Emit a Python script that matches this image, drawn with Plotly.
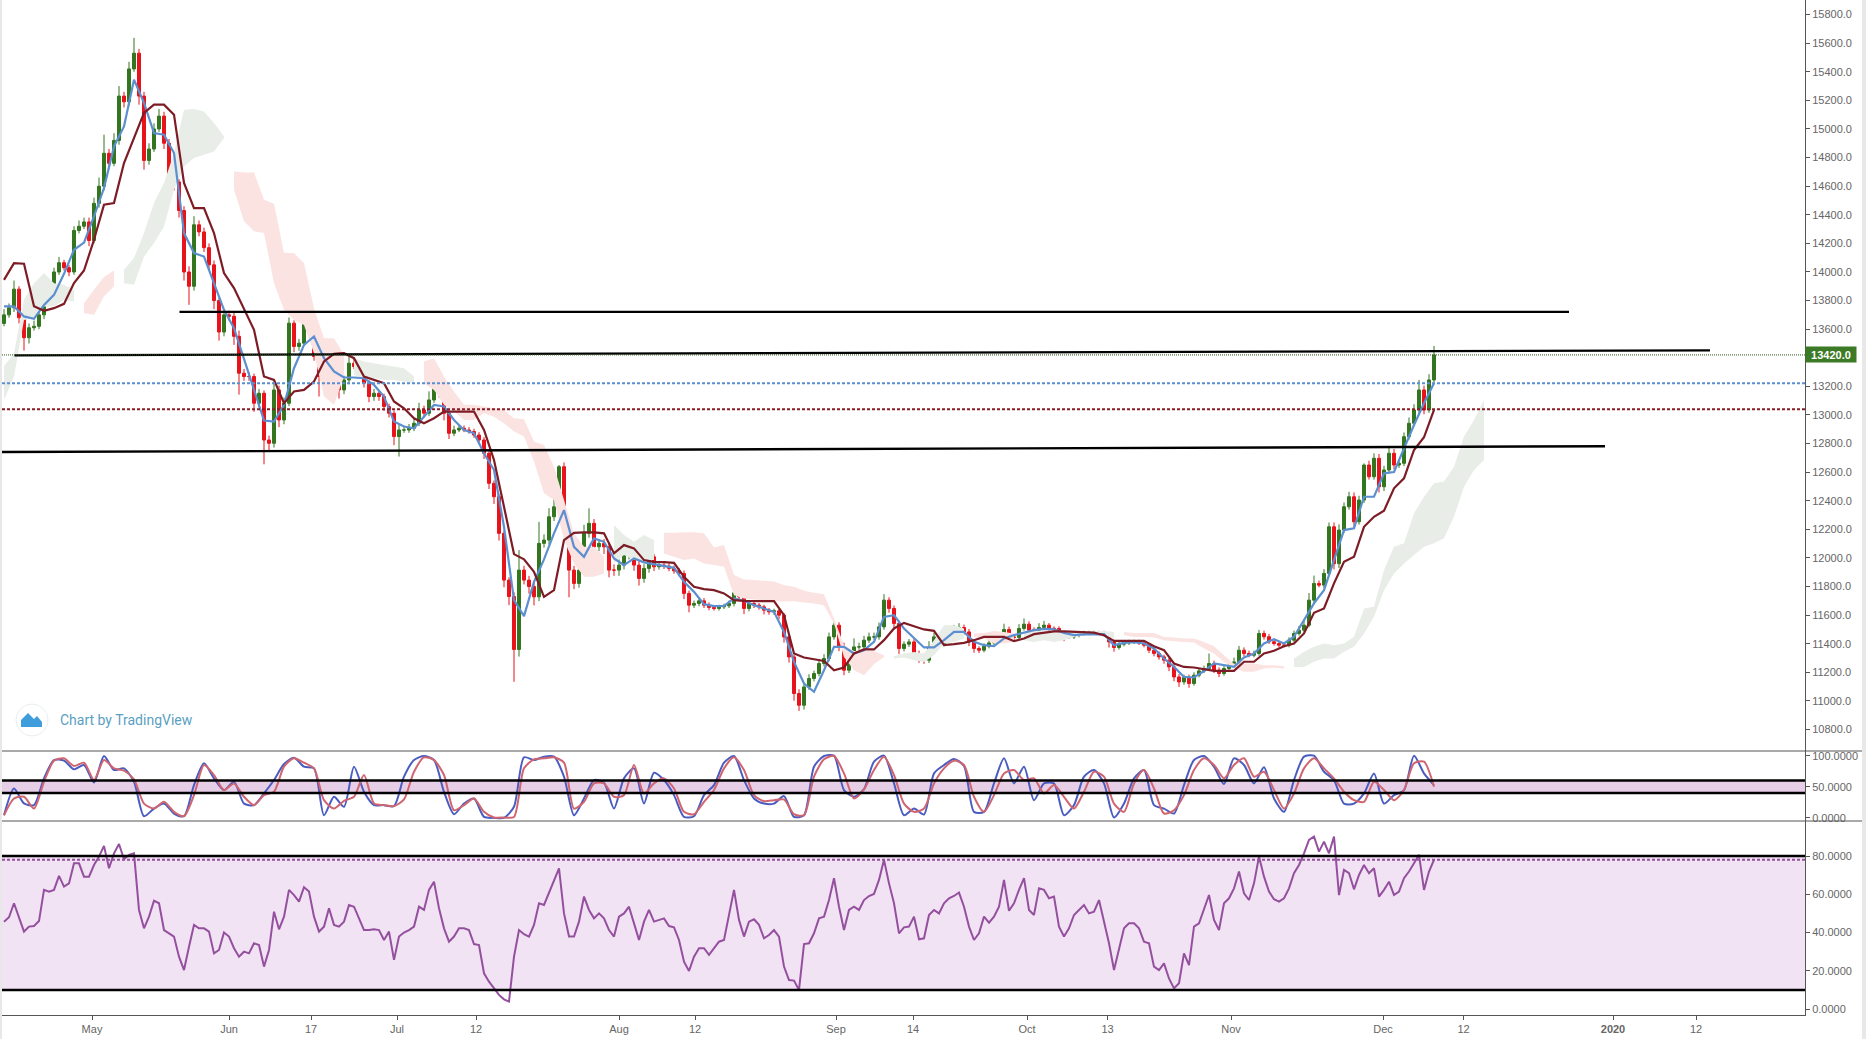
"""
Price chart with cloud, two moving lines, stochastic and RSI panes,
rebuilt from values read off a screenshot. One bar is half a trading day.
"""
import plotly.graph_objects as go

# ---------------------------------------------------------------------------
# data
# ---------------------------------------------------------------------------
FIRST_OPEN = 13640
CLOSES = [
    13700,13750,13880,13680,13540,13610,13620,13700,13880,13890,
    14000,14065,14030,14000,14290,14320,14350,14220,14480,14600,
    14830,14760,14920,15230,15190,15420,15530,15230,14780,14860,
    15000,15090,14900,14680,14630,14430,14000,13900,14330,14280,
    14170,14050,13800,13580,13700,13690,13550,13292,13269,13269,
    13082,13152,12825,12802,13175,12965,13082,13642,13479,13502,
    13642,13595,13409,13269,13269,13315,13315,13175,13245,13362,
    13339,13315,13222,13129,13152,13129,13059,13012,12849,12895,
    12895,12907,12942,13035,13012,13105,13199,13152,13012,12872,
    12895,12907,12895,12884,12860,12825,12732,12522,12428,12172,
    11845,11730,11360,11915,11845,11800,11728,12102,12125,12288,
    12358,12638,12218,11915,11822,11915,12172,12242,12078,12102,
    12078,11915,11915,11950,12020,12055,11950,11857,11927,12008,
    11938,11950,11943,11927,11910,11892,11752,11670,11682,11700,
    11670,11654,11647,11658,11665,11682,11756,11728,11647,11682,
    11670,11658,11635,11623,11630,11600,11448,11308,11052,10970,
    11098,11157,11192,11262,11297,11448,11530,11378,11215,11320,
    11378,11378,11425,11448,11448,11518,11705,11647,11542,11367,
    11397,11413,11332,11297,11285,11378,11448,11402,11476,11495,
    11502,11514,11483,11413,11367,11355,11383,11406,11425,11448,
    11500,11448,11444,11507,11537,11495,11495,11514,11530,11507,
    11507,11476,11448,11448,11460,11472,11476,11476,11476,11476,
    11467,11413,11374,11397,11406,11413,11413,11406,11390,11355,
    11332,11308,11285,11238,11168,11133,11164,11122,11180,11210,
    11227,11262,11215,11192,11227,11250,11273,11355,11332,11320,
    11332,11472,11449,11414,11402,11390,11390,11425,11472,11495,
    11530,11705,11822,11810,11892,12218,11960,12195,12358,12428,
    12253,12405,12650,12568,12697,12498,12615,12732,12650,12662,
    12848,12942,13035,13175,13035,13245,13420,
]
UP_WICKS = [
    40,30,60,20,15,30,40,30,60,30,
    30,40,20,20,30,40,30,30,40,60,
    130,30,50,70,30,50,107,30,30,40,
    40,50,30,30,20,20,30,40,60,30,
    30,30,30,20,40,30,30,40,30,30,
    20,30,20,30,60,30,40,40,20,30,
    105,30,20,30,30,40,30,20,30,50,
    30,20,20,20,30,20,20,20,20,40,
    30,30,30,50,30,60,40,20,20,30,
    30,20,20,20,20,20,20,20,20,20,
    20,20,30,140,30,30,40,150,40,60,
    60,12,30,30,30,30,60,105,30,30,
    30,30,40,40,50,40,30,30,30,50,
    20,20,20,20,20,20,20,20,20,20,
    20,20,15,15,15,20,35,20,15,15,
    15,15,15,15,15,15,15,15,15,30,
    30,30,20,30,30,30,20,20,30,30,
    60,30,30,30,30,30,42,20,20,20,
    20,20,20,20,20,40,30,20,20,20,
    30,30,20,20,15,15,20,20,20,30,
    40,20,20,30,40,20,20,30,30,15,
    15,15,15,15,15,15,15,15,15,15,
    15,15,15,15,15,15,15,15,15,15,
    15,15,15,15,15,20,20,20,20,20,
    20,70,20,20,20,20,30,30,20,20,
    20,25,20,20,15,15,15,20,20,30,
    30,50,55,20,30,30,30,40,30,35,
    30,30,12,30,35,30,30,45,30,30,
    30,40,40,70,30,40,63,
]
DOWN_WICKS = [
    20,20,30,40,90,40,20,20,30,30,
    20,20,20,30,20,20,20,40,20,30,
    30,40,20,30,40,30,20,60,65,30,
    20,20,40,60,60,50,60,130,30,30,
    30,40,60,60,30,30,60,150,30,30,
    60,30,170,50,30,50,30,20,40,30,
    20,30,30,140,30,30,30,60,30,30,
    20,30,30,40,30,30,30,30,60,140,
    20,20,20,20,30,20,20,30,50,40,
    20,15,15,15,20,20,40,40,50,50,
    50,60,226,50,30,50,60,30,30,30,
    30,30,60,190,40,30,30,30,60,30,
    50,50,40,40,30,30,40,50,30,30,
    30,20,20,20,20,20,40,50,20,20,
    20,20,15,15,15,15,20,20,40,20,
    20,20,30,20,20,30,40,40,50,40,
    30,20,20,20,20,20,20,30,35,20,
    20,20,20,20,20,20,20,30,40,40,
    20,20,30,30,25,20,20,20,20,20,
    15,15,20,30,30,20,15,15,15,15,
    15,20,20,15,15,20,15,15,15,15,
    15,30,30,15,15,15,15,15,15,15,
    15,40,30,15,15,15,15,15,15,20,
    20,20,25,30,30,35,20,30,15,15,
    15,15,20,25,15,15,15,20,20,15,
    15,15,20,15,15,15,15,15,15,15,
    15,15,20,15,20,20,40,30,20,20,
    35,20,20,20,20,40,30,20,30,20,
    20,20,20,20,30,20,20,
]
# lines below are sampled every second bar
BLUE_LINE = [
    13759,13759,13689,13672,13770,13840,13987,14155,14206,14388,
    14587,14878,15018,15345,15182,14972,14960,14832,14272,14132,
    14108,13922,13735,13607,13397,13175,12961,12954,13070,13327,
    13490,13549,13397,13304,13262,13262,13257,13210,13129,12954,
    12919,12907,12989,13070,13059,12965,12895,12872,12732,12615,
    12218,11705,11593,11833,11990,12172,12335,12078,12008,12137,
    12113,11997,11950,11997,11969,11957,11943,11931,11833,11763,
    11677,11663,11665,11717,11700,11670,11647,11623,11483,11273,
    11122,11064,11215,11378,11378,11332,11355,11413,11588,11600,
    11507,11437,11374,11374,11425,11483,11483,11413,11390,11383,
    11437,11460,11476,11495,11504,11500,11476,11460,11465,11467,
    11467,11390,11406,11411,11402,11367,11297,11238,11168,11164,
    11208,11262,11250,11238,11304,11332,11402,11432,11402,11449,
    11565,11682,11775,11985,12195,12207,12428,12428,12592,12601,
    12767,12930,13082,13222,
]
RED_LINE = [
    13945,14062,14058,13760,13728,13747,13777,13922,14010,14225,
    14470,14482,14762,14944,15112,15170,15170,15100,14622,14447,
    14447,14272,13992,13887,13735,13595,13269,13245,13082,13164,
    13175,13234,13374,13427,13432,13397,13269,13245,13222,13094,
    13047,12977,12942,12977,13024,13024,13024,13024,12895,12685,
    12358,12027,11990,11903,11728,11775,12125,12176,12179,12179,
    12172,12032,12090,12067,11985,11973,11971,11966,11868,11798,
    11782,11775,11752,11705,11700,11700,11698,11698,11600,11332,
    11304,11290,11280,11215,11234,11332,11360,11360,11425,11507,
    11546,11523,11500,11490,11390,11397,11406,11425,11448,11448,
    11448,11418,11437,11467,11476,11486,11486,11483,11481,11478,
    11460,11420,11420,11420,11420,11383,11355,11262,11238,11234,
    11220,11210,11210,11210,11274,11274,11332,11351,11383,11402,
    11472,11617,11647,11822,11973,12008,12218,12288,12330,12487,
    12557,12755,12844,13035,
]
STOCH_K = [
    4.3,47.3,23.2,20.5,63.5,93,92,78,85,57,
    99.5,77,79.6,58,2.7,15,23,7,2.7,52.7,
    87.7,63.5,44.7,58,23,20.5,39.3,60.8,86.6,96.8,
    82.3,79.6,4.3,33.9,17.8,82.3,42,20.5,20.5,18.9,
    66.2,93,99.5,93,42,5.9,23,31.2,1.6,0,
    0,17.8,97.3,93,98.4,98.4,66.2,4.3,31.2,60.8,
    56.5,15,63.5,79.6,23.2,72.6,60.8,36.6,1.6,2.7,
    36.6,52.7,88.7,99.5,60.8,31.2,23,23,35,1.6,
    4.3,82.3,99.5,100,44.7,33.9,46.3,90.4,100,55.4,
    4.3,15,5.4,71.5,85,94.7,83.4,9.7,9.7,55.4,
    95.7,55.4,82.3,28.5,55.4,55.4,4.3,20.5,66.2,76.9,
    55.4,0.6,23,63.5,76.9,20.5,15,7,52.7,93,
    99.5,82.3,54.3,95.7,85,55.4,81.2,31.2,9.7,60.8,
    98.4,100,74.2,60.8,23,23,39.3,71.5,23,36.6,
    44.7,100,71.5,52.7,
]
STOCH_D = [
    4.3,31.2,33.9,15,58,92,95.7,83.4,88.7,60.8,
    93,79.6,75.8,61.9,23,15,25.8,9.7,2.7,36.6,
    85,68.9,44.7,55.4,33.9,20.5,36.6,42,82.3,95.7,
    88.7,79.6,28.5,15,27.4,33.9,68.9,23,20.5,18.9,
    29.6,74.2,97.3,93,68.9,12.4,20.5,31.2,9.7,0.6,
    0.6,1.6,79.6,94.1,95.7,97.3,88.7,15,25.8,55.4,
    55.4,33.9,36.6,85,39.3,55.4,63.5,47.3,9.7,5.9,
    25.8,44.7,79.6,97.3,76.9,36.6,26.9,28.5,29.6,5.9,
    4.3,66.2,94.1,99.5,71.5,31.2,45.7,76.9,98.4,68.9,
    23,9.7,15,55.4,79.6,92,85,33.9,9.7,36.6,
    71.5,76.9,60.8,63.5,39.3,52.7,33.9,15,42,74.2,
    66.2,23,9.7,55.4,76.9,47.3,7,12.4,36.6,76.9,
    95.7,85,63.5,85,95.7,66.2,74.2,44.7,15,39.3,
    79.6,95.7,79.6,63.5,42,28.5,25.8,58.1,44.7,28.5,
    44.7,87.7,90.4,50,
]
RSI = [
    45.7,48,55.3,47.4,40.5,43.1,43.4,46,62.3,61.4,
    62.3,69.6,64,65.7,76.2,76.2,69.2,69.2,75.3,79.7,
    85.3,73.6,81.4,86.3,78.3,80.6,81.4,51.8,42.2,48.3,
    56.7,55.3,41.3,39.6,37.9,27.4,20.4,32.6,44,42.2,
    42.2,40.5,29.1,30.9,40,37.9,31.8,27.4,30,29.1,
    34.4,33.5,22.2,30.9,50.9,41.7,48.3,62.3,59.6,56.2,
    63.7,61.4,48.3,40.5,43.1,52.7,44,43.1,45.7,54.4,
    53.5,47.4,41.3,41.3,41.7,41.3,36.1,40.5,25.7,37.9,
    40,41.3,43.1,53.5,51.8,62.3,66.6,52.7,42.2,35.2,
    37.9,42.2,42.2,41.3,34,33.5,18.7,14.3,10.8,7.4,
    5.1,3.9,27.4,41.3,39.1,37.9,44,55.3,54.4,60.5,
    67.5,73.6,50,37.9,37.9,45.7,58.8,51.8,47.4,50,
    47.4,41.3,37.9,48.3,50,53.5,44.8,36.1,45.7,51.8,
    45.7,46.6,47.4,43.4,42.7,36.1,24.8,19.9,27.4,31.8,
    31.8,28.3,31.8,35.2,36.1,48.3,62.3,46.6,37.9,45.7,
    46.9,44,37,38.7,41.3,37.9,22.2,15.2,14.9,10,
    34,34.4,39.6,47.4,48.3,57,68.4,53.5,41.3,51.8,
    53.5,51.8,57,59.1,60.2,67.5,78,65.7,55.3,39.6,
    42.7,43.1,48.3,36.5,37,49.2,51.8,50,55.3,57.9,
    59.1,60.9,53.5,43.1,36.1,39.6,48.3,45.2,48.3,53.5,
    67.5,51.4,55.3,62.3,68.4,51.8,49.2,63.1,62.3,57.9,
    58.8,43.1,37.9,42.2,49.2,51.8,54.4,50,50.9,57,
    45.7,34.4,20.4,31.8,42.2,44.8,44.8,42.2,35.2,34.4,
    22.2,20.4,23.9,16,10.8,13.5,29.1,23,43.1,44.8,
    51.8,59.6,46.6,41.3,55.3,57.9,63.1,71.9,60.5,57,
    65.7,79.7,69.2,61.4,57.4,56.2,57.9,63.1,71,75.3,
    81.4,88.4,90.2,82.3,87.5,81.4,90.2,59.6,72.7,71,
    62.6,70.1,75.3,71,73.6,58.8,62.3,66.6,59.6,61.4,
    68.4,71.9,76.2,80.6,62.3,71.9,78,
]
# cloud edges, every second bar from bar 0 to bar 296
CLOUD_TOP = [
    13340,13432,13805,13922,13992,13922,13910,13875,13782,13875,
    13965,14010,14015,14097,14272,14482,14622,14832,15135,15140,
    15123,15042,14948,14703,14696,14696,14505,14477,14132,14132,
    14062,13747,13537,13537,13420,13397,13374,13362,13350,13339,
    13327,13269,13374,13397,13269,13164,13071,13071,13059,13047,
    13035,12977,12970,12814,12790,12638,12405,12172,12078,12078,
    12008,12230,12160,12113,12160,12125,12176,12176,12179,12179,
    12172,12074,12090,11880,11850,11845,11840,11836,11810,11798,
    11770,11757,11747,11577,11390,11350,11350,11350,11320,11313,
    11332,11343,11332,11425,11530,11530,11507,11472,11476,11490,
    11483,11472,11483,11495,11490,11490,11483,11481,11483,11490,
    11490,11483,11483,11476,11476,11476,11448,11444,11437,11437,
    11413,11383,11320,11260,11262,11262,11250,11250,11243,11297,
    11344,11379,11402,11390,11402,11449,11647,11658,11915,12079,
    12102,12312,12428,12522,12534,12638,12849,12965,13105,
]
CLOUD_BOTTOM = [
    13105,13269,13665,13678,13758,13758,13805,13793,13712,13700,
    13830,13900,13922,13910,14108,14202,14318,14575,14738,14797,
    14820,14843,14937,14575,14354,14284,14272,13922,13735,13665,
    13630,13432,13129,13071,13269,13280,13257,13257,13245,13245,
    13234,13222,13222,13175,13071,13024,12965,12965,13012,12988,
    12942,12884,12849,12674,12452,12405,12125,11962,11868,11868,
    11892,11962,12020,11985,11985,11985,12032,12008,11985,11997,
    11962,11950,11938,11740,11717,11710,11705,11698,11696,11698,
    11689,11682,11670,11542,11308,11215,11180,11257,11308,11297,
    11304,11285,11273,11320,11402,11413,11437,11448,11437,11402,
    11402,11413,11425,11413,11425,11413,11425,11448,11460,11467,
    11448,11437,11460,11448,11448,11444,11425,11418,11413,11409,
    11367,11332,11273,11230,11204,11204,11227,11232,11227,11238,
    11238,11274,11297,11297,11344,11379,11472,11589,11775,11892,
    11962,12020,12079,12102,12137,12288,12498,12615,12685,
]
# last bar of each cloud stretch; stretches alternate green, red, green, ...
CLOUD_RUN_ENDS = [14, 22, 44, 68, 82, 120, 130, 176, 192, 202, 222, 256, 296]

TREND_BARS = [[35.1, 313], [2.1, 341.2], [-0.4, 320.2]]
TREND_PRICES = [[13721, 13721], [13417, 13452], [12741, 12781]]
LAST_PRICE = 13420
BLUE_LEVEL = 13222
RED_LEVEL = 13040

PRICE_TICKS = [15800, 15600, 15400, 15200, 15000, 14800, 14600, 14400, 14200, 14000, 13800,
               13600, 13200, 13000, 12800, 12600, 12400, 12200, 12000, 11800, 11600, 11400,
               11200, 11000, 10800]
STOCH_TICKS = [100, 50, 0]
RSI_TICKS = [80, 60, 40, 20, 0]
DATE_TICK_BARS = [17.6, 45, 61.4, 78.6, 94.4, 123, 138.2, 166.4, 181.8, 204.6, 220.7,
                  245.4, 275.8, 291.9, 321.8, 338.4]
DATE_TICK_LABELS = ['May', 'Jun', '17', 'Jul', '12', 'Aug', '12', 'Sep', '14', 'Oct', '13',
                    'Nov', 'Dec', '12', '<b>2020</b>', '12']

# ---------------------------------------------------------------------------
# page geometry, all in screen pixels
# ---------------------------------------------------------------------------
W, H = 1866, 1039
LEFT, AXIS_X, BOTTOM = 2, 1805, 1015
MAIN_END, STOCH_END = 751, 821

UP, DOWN = '#33761f', '#e8131b'
GREEN_CLOUD, RED_CLOUD = '#e8ede8', '#fbe3e2'
AXIS_COL, TEXT_COL = '#555555', '#666666'
FONT = 'Liberation Sans'


def px_x(px):
    return (px - LEFT) / (AXIS_X - LEFT)


def px_y(py):
    return (BOTTOM - py) / BOTTOM


bars = list(range(len(CLOSES)))
line_bars = bars[::2]
cloud_bars = list(range(0, 297, 2))
opens = [FIRST_OPEN] + CLOSES[:-1]
highs = [max(o, c) + w for o, c, w in zip(opens, CLOSES, UP_WICKS)]
lows = [min(o, c) - w for o, c, w in zip(opens, CLOSES, DOWN_WICKS)]

fig = go.Figure()

# cloud stretches
start = 0
for k, end in enumerate(CLOUD_RUN_ENDS):
    idx = [i for i, b in enumerate(cloud_bars) if start <= b <= end]
    xs = [cloud_bars[i] for i in idx]
    fig.add_trace(go.Scatter(
        x=xs + xs[::-1],
        y=[CLOUD_TOP[i] for i in idx] + [CLOUD_BOTTOM[i] for i in idx[::-1]],
        fill='toself', mode='none', hoverinfo='skip',
        fillcolor=GREEN_CLOUD if k % 2 == 0 else RED_CLOUD,
    ))
    start = end + 1

fig.add_trace(go.Candlestick(
    x=bars, open=opens, high=highs, low=lows, close=CLOSES,
    increasing=dict(line=dict(color=UP, width=1), fillcolor=UP),
    decreasing=dict(line=dict(color=DOWN, width=1), fillcolor=DOWN),
    whiskerwidth=0,
))
fig.add_trace(go.Scatter(x=line_bars, y=BLUE_LINE, mode='lines', line=dict(color='#5b8fcf', width=2.2)))
fig.add_trace(go.Scatter(x=line_bars, y=RED_LINE, mode='lines', line=dict(color='#7d1c25', width=2.2)))

for xs, ys in zip(TREND_BARS, TREND_PRICES):
    fig.add_trace(go.Scatter(x=xs, y=ys, mode='lines', line=dict(color='#000000', width=2.4)))

fig.add_trace(go.Scatter(x=line_bars, y=STOCH_K, yaxis='y2', mode='lines',
                         line=dict(color='#4a5cc0', width=2, shape='spline', smoothing=0.7)))
fig.add_trace(go.Scatter(x=line_bars, y=STOCH_D, yaxis='y2', mode='lines',
                         line=dict(color='#d0646f', width=2, shape='spline', smoothing=0.7)))
fig.add_trace(go.Scatter(x=bars, y=RSI, yaxis='y3', mode='lines', line=dict(color='#94509e', width=2)))

shapes = [
    # window edges
    dict(type='rect', xref='paper', yref='paper', x0=px_x(0), x1=px_x(2), y0=px_y(H), y1=px_y(0),
         fillcolor='#e8e8e8', line_width=0, layer='below'),
    dict(type='rect', xref='paper', yref='paper', x0=px_x(1862), x1=px_x(1866), y0=px_y(H), y1=px_y(0),
         fillcolor='#e8e8e8', line_width=0, layer='below'),
    # pane separators
    dict(type='line', xref='paper', yref='paper', x0=0, x1=px_x(1862), y0=px_y(MAIN_END), y1=px_y(MAIN_END),
         line=dict(color=AXIS_COL, width=1)),
    dict(type='line', xref='paper', yref='paper', x0=0, x1=px_x(1862), y0=px_y(STOCH_END), y1=px_y(STOCH_END),
         line=dict(color=AXIS_COL, width=1)),
    # indicator bands
    dict(type='rect', xref='paper', yref='y2', x0=0, x1=1, y0=40, y1=60,
         fillcolor='#e6cee6', line_width=0, layer='below'),
    dict(type='rect', xref='paper', yref='y3', x0=0, x1=1, y0=10, y1=80,
         fillcolor='#f1e3f3', line_width=0, layer='below'),
    # price levels
    dict(type='line', xref='paper', yref='y', x0=0, x1=1, y0=BLUE_LEVEL, y1=BLUE_LEVEL,
         line=dict(color='#5b8fcf', width=2, dash='3px,2px')),
    dict(type='line', xref='paper', yref='y', x0=0, x1=1, y0=RED_LEVEL, y1=RED_LEVEL,
         line=dict(color='#8a1c25', width=2, dash='3px,2px')),
    dict(type='line', xref='paper', yref='y', x0=0, x1=1, y0=LAST_PRICE, y1=LAST_PRICE,
         line=dict(color='#33561f', width=1, dash='1px,1px')),
    dict(type='line', xref='paper', yref='y3', x0=0, x1=1, y0=78, y1=78,
         line=dict(color='#94509e', width=2, dash='3px,2px')),
    # logo
    dict(type='circle', xref='paper', yref='paper', x0=px_x(16), x1=px_x(48), y0=px_y(736), y1=px_y(704),
         fillcolor='#ffffff', line=dict(color='#e8eef0', width=1)),
    dict(type='path', xref='paper', yref='paper', fillcolor='#3f9ddb', line_width=0,
         path='M {} {} L {} {} L {} {} L {} {} L {} {} L {} {} L {} {} Z'.format(
             px_x(21), px_y(727), px_x(21), px_y(720), px_x(28), px_y(713), px_x(34), px_y(719),
             px_x(37), px_y(716), px_x(42), px_y(722), px_x(42), px_y(727))),
]
for level in (60, 40):
    shapes.append(dict(type='line', xref='paper', yref='y2', x0=0, x1=1, y0=level, y1=level,
                       line=dict(color='#000000', width=2.4)))
for level in (80, 10):
    shapes.append(dict(type='line', xref='paper', yref='y3', x0=0, x1=1, y0=level, y1=level,
                       line=dict(color='#000000', width=2.4)))

annotations = [
    dict(text='Chart by TradingView', xref='paper', yref='paper', x=px_x(58), y=px_y(720),
         xanchor='left', yanchor='middle', showarrow=False,
         font=dict(family='Roboto', size=14, color='#5b9fc2')),
    dict(text='<b>13420.0</b>', xref='paper', yref='y', x=px_x(AXIS_X), y=LAST_PRICE,
         xanchor='left', yanchor='middle', showarrow=False, width=50, height=15,
         bgcolor='#3c7a25', borderpad=0, font=dict(family=FONT, size=11, color='#ffffff')),
]

axis_style = dict(
    side='right', anchor='x', showgrid=False, zeroline=False, showline=True,
    linecolor=AXIS_COL, linewidth=1, ticks='outside', ticklen=4, tickcolor=AXIS_COL,
    tickfont=dict(family=FONT, size=11, color=TEXT_COL),
)
fig.update_layout(
    width=W, height=H, showlegend=False, hovermode=False, boxgap=0.15,
    paper_bgcolor='#ffffff', plot_bgcolor='#ffffff',
    margin=dict(l=LEFT, r=W - AXIS_X, t=0, b=H - BOTTOM, pad=0, autoexpand=False),
    shapes=shapes, annotations=annotations,
    xaxis=dict(
        range=[-0.4, 360.2], anchor='y3', rangeslider=dict(visible=False),
        showgrid=False, zeroline=False, showline=True, linecolor=AXIS_COL, linewidth=1,
        ticks='outside', ticklen=4, tickcolor=AXIS_COL,
        tickmode='array', tickvals=DATE_TICK_BARS, ticktext=DATE_TICK_LABELS,
        tickfont=dict(family=FONT, size=11, color=TEXT_COL),
    ),
    yaxis=dict(domain=[px_y(MAIN_END), 1], range=[10650, 15902], tickmode='array',
               tickvals=PRICE_TICKS, tickformat='.1f', **axis_style),
    yaxis2=dict(domain=[px_y(STOCH_END), px_y(MAIN_END)], range=[-5, 107.5], tickmode='array',
                tickvals=STOCH_TICKS, tickformat='.4f', **axis_style),
    yaxis3=dict(domain=[0, px_y(STOCH_END)], range=[-3.1, 98.3], tickmode='array',
                tickvals=RSI_TICKS, tickformat='.4f', **axis_style),
)

# the default page body margin would push the figure off the window
fig.write_html("out.html", config=dict(displayModeBar=False),
               post_script="document.body.style.margin='0';document.body.style.overflow='hidden';")
